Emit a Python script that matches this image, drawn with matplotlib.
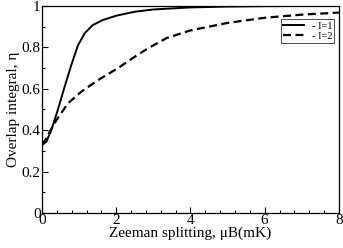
"""Overlap integral vs Zeeman splitting for I=1 and I=2."""
import matplotlib
matplotlib.use("Agg")
import matplotlib.pyplot as plt
from matplotlib.ticker import MultipleLocator, FuncFormatter

# I=1 curve (solid)
x_i1 = [0.0, 0.12, 0.25, 0.43, 0.61, 0.79, 0.97, 1.15, 1.37, 1.64, 2.0, 2.5, 3.0, 4.0, 5.0, 6.0, 7.0, 8.0]
y_i1 = [0.328, 0.345, 0.40, 0.50, 0.61, 0.715, 0.81, 0.868, 0.908, 0.932, 0.953, 0.972, 0.983, 0.993, 0.997, 0.999, 1.0, 1.0]

# I=2 curve (dashed)
x_i2 = [0.0, 0.08, 0.16, 0.39, 0.70, 1.06, 1.51, 2.05, 2.46, 2.86, 3.36, 4.0, 5.0, 6.0, 7.0, 8.0]
y_i2 = [0.33, 0.35, 0.377, 0.449, 0.53, 0.586, 0.642, 0.70, 0.75, 0.796, 0.845, 0.882, 0.918, 0.943, 0.958, 0.968]


def main():
    plt.rcParams["font.family"] = "Liberation Serif"
    fig = plt.figure(figsize=(3.43, 2.48), dpi=100)
    ax = fig.add_axes([0.1224, 0.141, 0.8656, 0.835])

    ax.plot(x_i1, y_i1, color="black", linewidth=1.4, label="- I=1")
    ax.plot(x_i2, y_i2, color="black", linewidth=1.6, dashes=(3.6, 2.0), label="- I=2")

    ax.set_xlim(0, 8)
    ax.set_ylim(0, 1)
    ax.xaxis.set_major_locator(MultipleLocator(2))
    ax.xaxis.set_minor_locator(MultipleLocator(0.4))
    ax.yaxis.set_major_locator(MultipleLocator(0.2))
    ax.yaxis.set_minor_locator(MultipleLocator(0.1))
    ax.yaxis.set_major_formatter(FuncFormatter(lambda v, p: f"{v:g}"))
    ax.tick_params(which="both", direction="in", top=False, right=False,
                   labelsize=11, pad=1)
    ax.tick_params(which="major", length=4, width=0.8)
    ax.tick_params(which="minor", length=2, width=0.8)
    for s in ax.spines.values():
        s.set_linewidth(0.9)

    ax.set_xlabel("Zeeman splitting, \u03bcB(mK)", fontsize=11, labelpad=-1)
    ax.set_ylabel("Overlap integral, \u03b7", fontsize=11, labelpad=1)

    leg = ax.legend(loc="upper right", bbox_to_anchor=(0.985, 0.935), fontsize=7.5,
                    frameon=True, fancybox=False, edgecolor="black",
                    handlelength=2.0, handletextpad=0.8, borderpad=0.2,
                    labelspacing=0.1, borderaxespad=0)
    leg.get_frame().set_linewidth(0.6)

    fig.savefig("out.png", dpi=100)


if __name__ == "__main__":
    main()
